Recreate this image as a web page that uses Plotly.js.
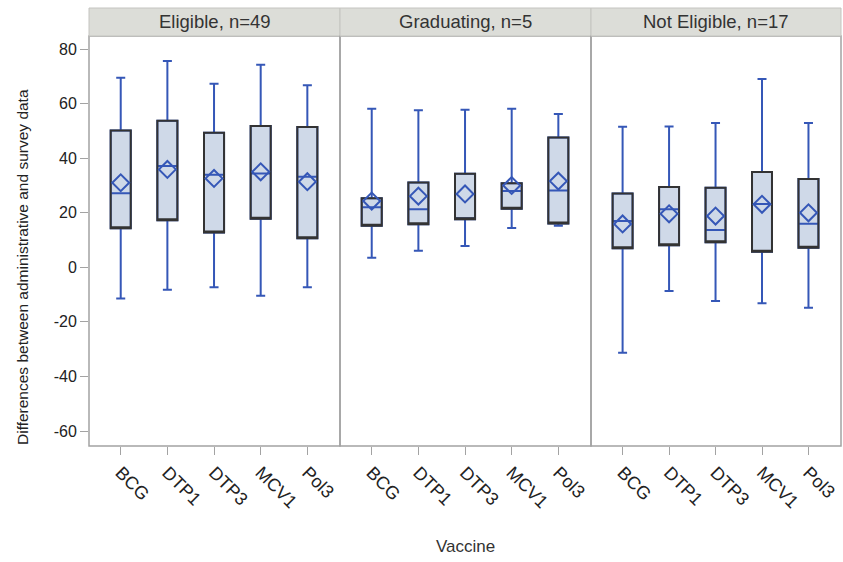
<!DOCTYPE html>
<html>
<head>
<meta charset="utf-8">
<script src="https://cdn.plot.ly/plotly-3.0.1.min.js"></script>
<style>html,body{margin:0;padding:0;background:#fff;}#chart{width:843px;height:562px;}</style>
</head>
<body>
<div id="chart"></div>
<script>
// ---- data ----
const vaccines = ["BCG", "DTP1", "DTP3", "MCV1", "Pol3"];
const panelTitles = ["Eligible, n=49", "Graduating, n=5", "Not Eligible, n=17"];

// Eligible
const eligMin    = [-11.4, -8.2, -7.3, -10.4, -7.3];
const eligQ1     = [14.3, 17.3, 12.8, 17.8, 10.7];
const eligMedian = [27.2, 37.1, 33.9, 34.4, 33.2];
const eligQ3     = [50.2, 53.7, 49.3, 51.8, 51.4];
const eligMax    = [69.5, 75.6, 67.3, 74.3, 66.7];
const eligMean   = [31.0, 35.9, 32.6, 35.0, 31.4];

// Graduating
const gradMin    = [3.5, 6.1, 7.8, 14.4, 15.2];
const gradQ1     = [15.2, 15.8, 17.6, 21.5, 16.1];
const gradMedian = [22.0, 21.3, 17.6, 28.0, 28.2];
const gradQ3     = [25.3, 31.1, 34.3, 30.8, 47.6];
const gradMax    = [58.1, 57.6, 57.8, 58.1, 56.2];
const gradMean   = [24.3, 26.1, 26.9, 30.0, 31.6];

// Not eligible
const notMin    = [-31.3, -8.7, -12.3, -13.2, -14.8];
const notQ1     = [7.0, 8.1, 9.2, 5.7, 7.2];
const notMedian = [17.0, 21.3, 13.7, 23.2, 16.0];
const notQ3     = [27.1, 29.4, 29.2, 34.9, 32.4];
const notMax    = [51.5, 51.6, 52.9, 69.0, 52.9];
const notMean   = [15.9, 19.6, 18.8, 23.1, 20.0];

const yTicks = [-60, -40, -20, 0, 20, 40, 60, 80];
const yTickText = ["-60", "-40", "-20", "0", "20", "40", "60", "80"];

// ---- build ----
const panels = [
  {min: eligMin, q1: eligQ1, med: eligMedian, q3: eligQ3, max: eligMax, mean: eligMean},
  {min: gradMin, q1: gradQ1, med: gradMedian, q3: gradQ3, max: gradMax, mean: gradMean},
  {min: notMin,  q1: notQ1,  med: notMedian,  q3: notQ3,  max: notMax,  mean: notMean}
];
const BLUE = "#3557b7";
const DARK = "#333333";
const FILL = "#cfd9e8";
const BORDER = "#a3a3a3";
const FONT = "Liberation Sans, Arial, sans-serif";

const traces = [];
panels.forEach((p, i) => {
  const xa = i === 0 ? "x" : "x" + (i + 1);
  traces.push({
    type: "box", xaxis: xa, yaxis: "y", x: vaccines,
    q1: p.q1, median: p.med, q3: p.q3, lowerfence: p.min, upperfence: p.max,
    width: 0.43, whiskerwidth: 0.45, fillcolor: FILL,
    line: {color: BLUE, width: 2}, boxpoints: false, showlegend: false, hoverinfo: "skip"
  });
  traces.push({
    type: "box", xaxis: xa, yaxis: "y", x: vaccines,
    q1: p.q1, median: p.q1, q3: p.q3, lowerfence: p.q1, upperfence: p.q3,
    width: 0.43, whiskerwidth: 1, fillcolor: "rgba(0,0,0,0)",
    line: {color: DARK, width: 2}, boxpoints: false, showlegend: false, hoverinfo: "skip"
  });
  traces.push({
    type: "scatter", mode: "markers", xaxis: xa, yaxis: "y", x: vaccines, y: p.mean,
    marker: {symbol: "diamond-open", size: 13, color: BLUE, line: {width: 2, color: BLUE}},
    showlegend: false, hoverinfo: "skip"
  });
});

const L = 89, R = 841, W = 843, H = 562, T = 36, B = 446;
const pw = (R - L);
const ph = (B - T);
const bounds = [0, 251 / pw, 502 / pw, 1];

const xaxisBase = (i) => ({
  domain: [bounds[i], bounds[i + 1]],
  type: "category", range: [-0.68, 4.7],
  anchor: "y", showgrid: false, zeroline: false,
  ticks: "outside", ticklen: 8, tickwidth: 1, tickcolor: BORDER,
  tickangle: 45, tickfont: {family: FONT, size: 18, color: "#222"},
  showline: false
});

const shapes = [];
const annotations = [];
const hdr = 28 / ph;
for (let i = 0; i < 3; i++) {
  shapes.push({type: "rect", xref: "paper", yref: "paper", x0: bounds[i], x1: bounds[i + 1], y0: 0, y1: 1,
    line: {color: BORDER, width: 1.5}, fillcolor: "rgba(0,0,0,0)", layer: "above"});
  shapes.push({type: "rect", xref: "paper", yref: "paper", x0: bounds[i], x1: bounds[i + 1], y0: 1, y1: 1 + hdr,
    line: {color: "#c4c4c0", width: 1}, fillcolor: "#dcddd8", layer: "above"});
  annotations.push({xref: "paper", yref: "paper", x: (bounds[i] + bounds[i + 1]) / 2, y: 1 + hdr / 2,
    text: panelTitles[i], showarrow: false, xanchor: "center", yanchor: "middle",
    font: {family: FONT, size: 18.5, color: "#333"}});
}
annotations.push({xref: "paper", yref: "paper", x: 0.5, y: -(546 - B) / ph, text: "Vaccine",
  showarrow: false, xanchor: "center", yanchor: "middle",
  font: {family: FONT, size: 17, color: "#333"}});
annotations.push({xref: "paper", yref: "paper", x: -(L - 22) / pw, y: (B - 267) / ph,
  text: "Differences between administrative and survey data",
  showarrow: false, xanchor: "center", yanchor: "middle", textangle: -90,
  font: {family: FONT, size: 15.5, color: "#222"}});

const layout = {
  width: W, height: H,
  margin: {l: L, r: W - R, t: T, b: H - B, pad: 0},
  paper_bgcolor: "#fff", plot_bgcolor: "#fff",
  boxmode: "overlay",
  xaxis: xaxisBase(0), xaxis2: xaxisBase(1), xaxis3: xaxisBase(2),
  yaxis: {
    range: [-65.5, 84.8], tickvals: yTicks, ticktext: yTickText, showgrid: false, zeroline: false,
    ticks: "outside", ticklen: 8, tickwidth: 1, tickcolor: BORDER,
    tickfont: {family: FONT, size: 16, color: "#222"},
    showline: false
  },
  shapes: shapes, annotations: annotations,
  font: {family: FONT}
};

Plotly.newPlot("chart", traces, layout, {staticPlot: true, displayModeBar: false});
</script>
</body>
</html>
